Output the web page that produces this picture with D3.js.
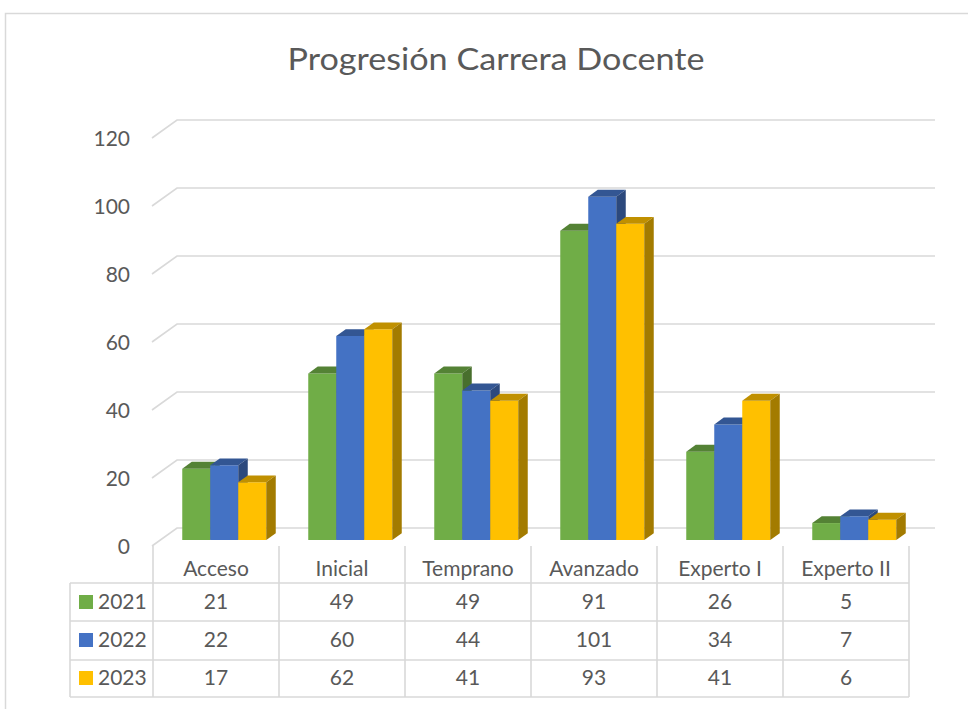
<!DOCTYPE html>
<html>
<head>
<meta charset="utf-8">
<script src="https://cdn.jsdelivr.net/npm/d3@7"></script>
<style>
  body { margin: 0; background: #fff; }
  text { font-family: Lato, "Open Sans", sans-serif; fill: #595959; }
</style>
</head>
<body>
<div id="chart"></div>
<script>
// data
var categories = ["Acceso", "Inicial", "Temprano", "Avanzado", "Experto I", "Experto II"];
var years = ["2021", "2022", "2023"];
var values2021 = [21, 49, 49, 91, 26, 5];
var values2022 = [22, 60, 44, 101, 34, 7];
var values2023 = [17, 62, 41, 93, 41, 6];
var yTicks = [0, 20, 40, 60, 80, 100, 120];
var title = "Progresión Carrera Docente";

var seriesColors = ["#70AD47", "#4472C4", "#FFC000"];
var series = years.map(function(y, i) {
  return { year: y, values: [values2021, values2022, values2023][i], color: seriesColors[i] };
});

var width = 968, height = 709;
var DX = 25, DY = 18;          // depth of the 3d box
var Z0 = 0.33, Z1 = 0.71;      // bar depth inside the box
var fs = '21px';

var svg = d3.select('#chart').append('svg')
  .attr('width', width).attr('height', height);

// outer chart frame
svg.append('rect')
  .attr('x', 5.5).attr('y', 13.5)
  .attr('width', width + 20).attr('height', height + 20)
  .style('fill', 'none').style('stroke', '#D9D9D9').style('stroke-width', 1.5);

svg.append('text')
  .attr('x', 496).attr('y', 70)
  .attr('text-anchor', 'middle')
  .attr('textLength', 417).attr('lengthAdjust', 'spacingAndGlyphs')
  .style('font-size', '30px')
  .text(title);

var x0 = d3.scaleBand().domain(categories).range([153, 909]);
var x1 = d3.scaleBand().domain(years).range([0, x0.bandwidth()]).paddingOuter(0.75);
var y = d3.scaleLinear().domain([0, 120]).range([546, 138]);

function proj(px, v, z) {
  return [px + z * DX, y(v) - z * DY];
}

// gridlines: front slant + back wall line
var grid = svg.append('g').attr('class', 'grid');
yTicks.forEach(function(t) {
  var f = proj(152, t, 0), b = proj(152, t, 1);
  grid.append('polyline')
    .attr('points', [f, b, [935, b[1]]].map(function(p) { return p.join(','); }).join(' '))
    .style('fill', 'none').style('stroke', '#D9D9D9').style('stroke-width', 1.6);
});

// y labels
svg.append('g').selectAll('text').data(yTicks).enter()
  .append('text')
  .attr('x', 130).attr('y', function(d) { return y(d) + 1; })
  .attr('dy', '0.35em')
  .attr('text-anchor', 'end')
  .style('font-size', fs)
  .text(function(d) { return d; });

// bars
var bars = svg.append('g').attr('class', 'bars');
categories.forEach(function(c, ci) {
  series.forEach(function(s) {
    var v = s.values[ci];
    var xl = x0(c) + x1(s.year), xr = xl + x1.bandwidth();
    var col = d3.color(s.color);
    var pts = function(arr) { return arr.map(function(p) { return p.join(','); }).join(' '); };
    // front
    bars.append('polygon')
      .attr('points', pts([proj(xl, 0, Z0), proj(xr, 0, Z0), proj(xr, v, Z0), proj(xl, v, Z0)]))
      .style('fill', col.formatHex());
    // top
    bars.append('polygon')
      .attr('points', pts([proj(xl, v, Z0), proj(xr, v, Z0), proj(xr, v, Z1), proj(xl, v, Z1)]))
      .style('fill', col.darker(0.8).formatHex());
    // side
    bars.append('polygon')
      .attr('points', pts([proj(xr, 0, Z0), proj(xr, 0, Z1), proj(xr, v, Z1), proj(xr, v, Z0)]))
      .style('fill', col.darker(1.25).formatHex());
  });
});

// data table
var rowY = d3.scaleBand().domain(years).range([583, 697]);
var table = svg.append('g').attr('class', 'table');
var lineStyle = function(sel) {
  sel.style('stroke', '#D9D9D9').style('stroke-width', 1.6);
};
[583, 621, 660, 697].forEach(function(yy) {
  table.append('line').attr('x1', 70).attr('x2', 909).attr('y1', yy).attr('y2', yy).call(lineStyle);
});
table.append('line').attr('x1', 70).attr('x2', 70).attr('y1', 583).attr('y2', 697).call(lineStyle);
categories.forEach(function(c) {
  table.append('line').attr('x1', x0(c)).attr('x2', x0(c)).attr('y1', 546).attr('y2', 697).call(lineStyle);
});
table.append('line').attr('x1', 909).attr('x2', 909).attr('y1', 546).attr('y2', 697).call(lineStyle);

table.selectAll('text.cat').data(categories).enter()
  .append('text').attr('class', 'cat')
  .attr('x', function(d) { return x0(d) + x0.bandwidth() / 2; })
  .attr('y', 569).attr('dy', '0.35em')
  .attr('text-anchor', 'middle')
  .style('font-size', fs)
  .text(function(d) { return d; });

series.forEach(function(s) {
  var cy = rowY(s.year) + rowY.bandwidth() / 2;
  table.append('rect')
    .attr('x', 79).attr('y', cy - 7).attr('width', 14).attr('height', 14)
    .style('fill', s.color);
  table.append('text')
    .attr('x', 98).attr('y', cy).attr('dy', '0.35em')
    .style('font-size', fs)
    .text(s.year);
  table.selectAll(null).data(s.values).enter()
    .append('text')
    .attr('x', function(d, i) { return x0(categories[i]) + x0.bandwidth() / 2; })
    .attr('y', cy).attr('dy', '0.35em')
    .attr('text-anchor', 'middle')
    .style('font-size', fs)
    .text(function(d) { return d; });
});
</script>
</body>
</html>
